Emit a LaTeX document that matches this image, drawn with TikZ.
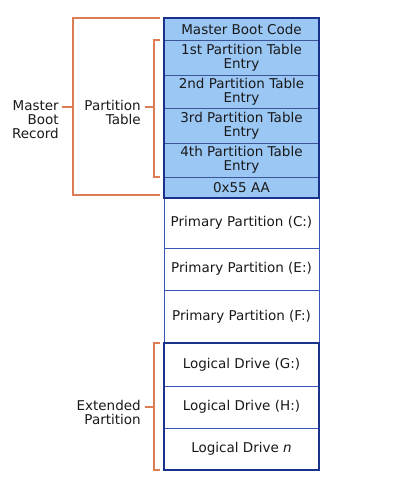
\documentclass[tikz,border=0pt]{standalone}
\usepackage{fontspec}
\setmainfont{DejaVu Sans}
\definecolor{mbrfill}{RGB}{155,199,245}
\definecolor{navy}{RGB}{25,50,140}
\definecolor{rowline}{RGB}{60,85,150}
\definecolor{partline}{RGB}{55,85,185}
\definecolor{bracketorange}{RGB}{220,125,85}
\definecolor{labeltext}{RGB}{25,25,25}
\begin{document}
\begin{tikzpicture}[
    x=0.025cm, y=-0.025cm,
    row/.style={draw=partline, line width=0.6pt, fill=white, minimum width=3.875cm, minimum height=#1*0.025cm,
        inner sep=0pt, outer sep=0pt, align=center, text=labeltext, font=\fontsize{9.6}{10}\selectfont},
    mbrrow/.style={row=#1, draw=rowline, fill=mbrfill},
    outline/.style={draw=navy, line width=1.5pt},
    bracket/.style={draw=bracketorange, line width=1.2pt},
    sidelabel/.style={anchor=north east, inner sep=0pt, align=right, text=labeltext, font=\fontsize{9.6}{10}\selectfont}
]
\useasboundingbox (0,0) rectangle (400,479);

% Master boot record
\node[mbrrow=22] (mbc) at (241.5,29) {Master Boot Code};
\node[mbrrow=35] (pte1) at (241.5,57.5) {1st Partition Table\\Entry};
\node[mbrrow=33] (pte2) at (241.5,91.5) {2nd Partition Table\\Entry};
\node[mbrrow=35] (pte3) at (241.5,125.5) {3rd Partition Table\\Entry};
\node[mbrrow=34] (pte4) at (241.5,160) {4th Partition Table\\Entry};
\node[mbrrow=21] (sig) at (241.5,187.5) {0x55 AA};

% Primary partitions
\node[row=50] (prc) at (241.5,223) {Primary Partition (C:)};
\node[row=42] (pre) at (241.5,269) {Primary Partition (E:)};
\node[row=53] (prf) at (241.5,316.5) {Primary Partition (F:)};

% Extended partition
\node[row=43] (ldg) at (241.5,364.5) {Logical Drive (G:)};
\node[row=42] (ldh) at (241.5,407) {Logical Drive (H:)};
\node[row=42] (ldn) at (241.5,449) {Logical Drive \emph{n}};

\draw[outline] (mbc.north west) rectangle (sig.south east);
\draw[outline] (ldg.north west) rectangle (ldn.south east);

% Labels
\node[sidelabel] (mbrlbl) at (59,100) {Master\\Boot\\Record};
\node[sidelabel] (ptlbl) at (141,100) {Partition\\Table};
\node[sidelabel] (extlbl) at (141,400) {Extended\\Partition};

% Brackets
\coordinate (mbrtick) at (73,107);
\coordinate (pttick) at (154,107);
\coordinate (exttick) at (154,407);
\draw[bracket] ([xshift=-1mm]mbc.north west) -- ++(-87,0) |- ([xshift=-1mm,yshift=0.75mm]sig.south west);
\draw[bracket] ([xshift=-1mm]pte1.north west) -- ++(-6,0) |- ([xshift=-1mm]pte4.south west);
\draw[bracket] ([xshift=-1mm]ldg.north west) -- ++(-6,0) |- ([xshift=-1mm]ldn.south west);
\draw[bracket] (mbrtick) -- ++(-11,0);
\draw[bracket] (pttick) -- ++(-9,0);
\draw[bracket] (exttick) -- ++(-9,0);
\end{tikzpicture}
\end{document}
